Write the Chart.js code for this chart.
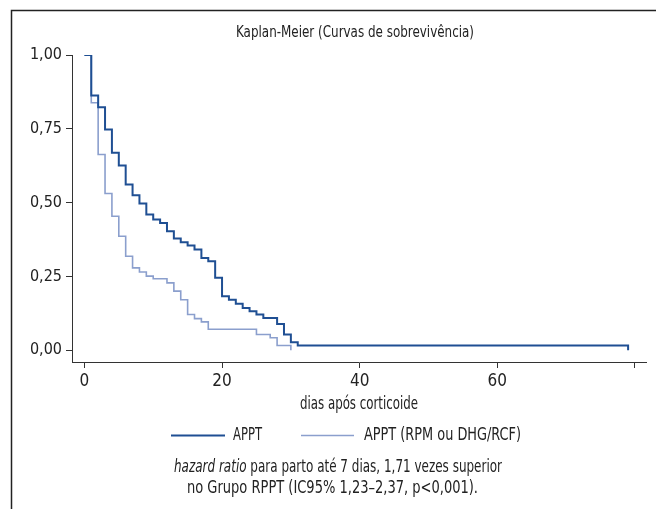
<!DOCTYPE html>
<html>
<head>
<meta charset="utf-8">
<script src="https://cdn.jsdelivr.net/npm/chart.js@4/dist/chart.umd.min.js"></script>
<style>
  html, body { margin: 0; padding: 0; background: #ffffff; }
  canvas { display: block; }
</style>
</head>
<body>
<canvas id="c" width="656" height="509"></canvas>
<script>
// ---- data (Kaplan-Meier step points) ----
const apptTimes = [0, 1, 2, 3, 4, 5, 6, 7, 8, 9, 10, 11, 12, 13, 14, 15, 16, 17, 18, 19, 20, 21, 22, 23, 24, 25, 26, 28, 29, 30, 31, 79];
const apptSurv  = [1, 0.863, 0.823, 0.748, 0.669, 0.626, 0.561, 0.525, 0.497, 0.46, 0.443, 0.431, 0.403, 0.378, 0.366, 0.355, 0.341, 0.312, 0.301, 0.245, 0.183, 0.171, 0.157, 0.143, 0.132, 0.121, 0.109, 0.089, 0.053, 0.027, 0.016, 0];
const rpmTimes  = [0, 1, 2, 3, 4, 5, 6, 7, 8, 9, 10, 12, 13, 14, 15, 16, 17, 18, 25, 27, 28, 30];
const rpmSurv   = [1, 0.838, 0.663, 0.531, 0.454, 0.386, 0.318, 0.279, 0.265, 0.251, 0.242, 0.228, 0.2, 0.171, 0.121, 0.107, 0.096, 0.071, 0.053, 0.042, 0.016, 0];
const seriesNames = ['APPT', 'APPT (RPM ou DHG/RCF)'];
const xTicks = [0, 20, 40, 60, 80];
const xTickLabels = ['0', '20', '40', '60', ''];
const yTicks = [0, 0.25, 0.5, 0.75, 1];
const yTickLabels = ['0,00', '0,25', '0,50', '0,75', '1,00'];
const titleText = 'Kaplan-Meier (Curvas de sobrevivência)';
const xTitleText = 'dias após corticoide';
const noteLine1Italic = 'hazard ratio';
const noteLine1Rest = ' para parto até 7 dias, 1,71 vezes superior';
const noteLine2 = 'no Grupo RPPT (IC95% 1,23–2,37, p<0,001).';

const FONT = '"DejaVu Sans Condensed", "Liberation Sans Narrow", sans-serif';
const DARK = '#1f4f93';
const LIGHT = '#8b9fcd';
const AXIS = '#333333';

const toPts = (ts, ss) => ts.map((t, i) => ({ x: t, y: ss[i] }));

// draw a run of text pieces starting at x, condensed horizontally to a target width
function drawRun(ctx, pieces, left, y, targetWidth) {
  let total = 0;
  const widths = pieces.map(p => { ctx.font = p.font; const w = ctx.measureText(p.text).width; total += w; return w; });
  const sx = targetWidth / total;
  ctx.save();
  ctx.translate(left, y);
  ctx.scale(sx, 1);
  ctx.textAlign = 'left';
  ctx.textBaseline = 'middle';
  let x = 0;
  pieces.forEach((p, i) => { ctx.font = p.font; ctx.fillText(p.text, x, 0); x += widths[i]; });
  ctx.restore();
}

const decor = {
  id: 'decor',
  afterDraw(chart) {
    const ctx = chart.ctx;
    ctx.save();
    // outer frame (left + top visible)
    ctx.strokeStyle = '#222';
    ctx.lineWidth = 1.5;
    ctx.beginPath();
    ctx.moveTo(11.5, 520);
    ctx.lineTo(11.5, 10.5);
    ctx.lineTo(660, 10.5);
    ctx.stroke();

    ctx.fillStyle = '#222';
    const f = '16px ' + FONT;
    const fl = '17px ' + FONT;
    const fi = 'italic 17px ' + FONT;
    // title
    drawRun(ctx, [{ text: titleText, font: f }], 236, 33, 238);
    // x axis title
    drawRun(ctx, [{ text: xTitleText, font: fl }], 300, 405, 118);

    // legend
    const ly = 435.5;
    ctx.lineWidth = 1.8;
    ctx.strokeStyle = DARK;
    ctx.beginPath(); ctx.moveTo(171, ly); ctx.lineTo(225, ly); ctx.stroke();
    drawRun(ctx, [{ text: seriesNames[0], font: fl }], 233, ly, 29);
    ctx.lineWidth = 1.4;
    ctx.strokeStyle = LIGHT;
    ctx.beginPath(); ctx.moveTo(301, ly); ctx.lineTo(354, ly); ctx.stroke();
    drawRun(ctx, [{ text: seriesNames[1], font: fl }], 364, ly, 157);

    // note
    drawRun(ctx, [{ text: noteLine1Italic, font: fi }, { text: noteLine1Rest, font: fl }], 174, 468, 328);
    drawRun(ctx, [{ text: noteLine2, font: fl }], 187, 489, 291);
    ctx.restore();
  }
};

new Chart(document.getElementById('c'), {
  type: 'line',
  data: {
    datasets: [
      { label: seriesNames[0], data: toPts(apptTimes, apptSurv), borderColor: DARK, borderWidth: 2, stepped: 'before', fill: false, pointRadius: 0 },
      { label: seriesNames[1], data: toPts(rpmTimes, rpmSurv), borderColor: LIGHT, borderWidth: 1.6, stepped: 'before', fill: false, pointRadius: 0 }
    ]
  },
  options: {
    responsive: false,
    animation: false,
    devicePixelRatio: 1,
    layout: { padding: { top: 55, right: 10, left: 0, bottom: 0 } },
    plugins: { legend: { display: false }, tooltip: { enabled: false }, title: { display: false } },
    scales: {
      x: {
        type: 'linear', min: -1.8, max: 81.6,
        afterBuildTicks: s => { s.ticks = xTicks.map(v => ({ value: v })); },
        afterFit: s => { s.height = 147; },
        ticks: {
          callback: (v) => { const i = xTicks.indexOf(v); return i >= 0 ? xTickLabels[i] : ''; },
          font: { family: FONT, size: 17 }, color: '#222', padding: 3, maxRotation: 0, autoSkip: false
        },
        grid: { drawOnChartArea: false, drawTicks: true, tickLength: 6, color: AXIS, lineWidth: 1 },
        border: { display: true, color: AXIS, width: 1 }
      },
      y: {
        min: -0.04, max: 1,
        afterBuildTicks: s => { s.ticks = yTicks.map(v => ({ value: v })); },
        afterFit: s => { s.width = 72; },
        ticks: {
          callback: (v) => { const i = yTicks.indexOf(v); return i >= 0 ? yTickLabels[i] : ''; },
          font: { family: FONT, size: 16 }, color: '#222', padding: 4
        },
        grid: { drawOnChartArea: false, drawTicks: true, tickLength: 6, color: AXIS, lineWidth: 1 },
        border: { display: true, color: AXIS, width: 1 }
      }
    }
  },
  plugins: [decor]
});
</script>
</body>
</html>
